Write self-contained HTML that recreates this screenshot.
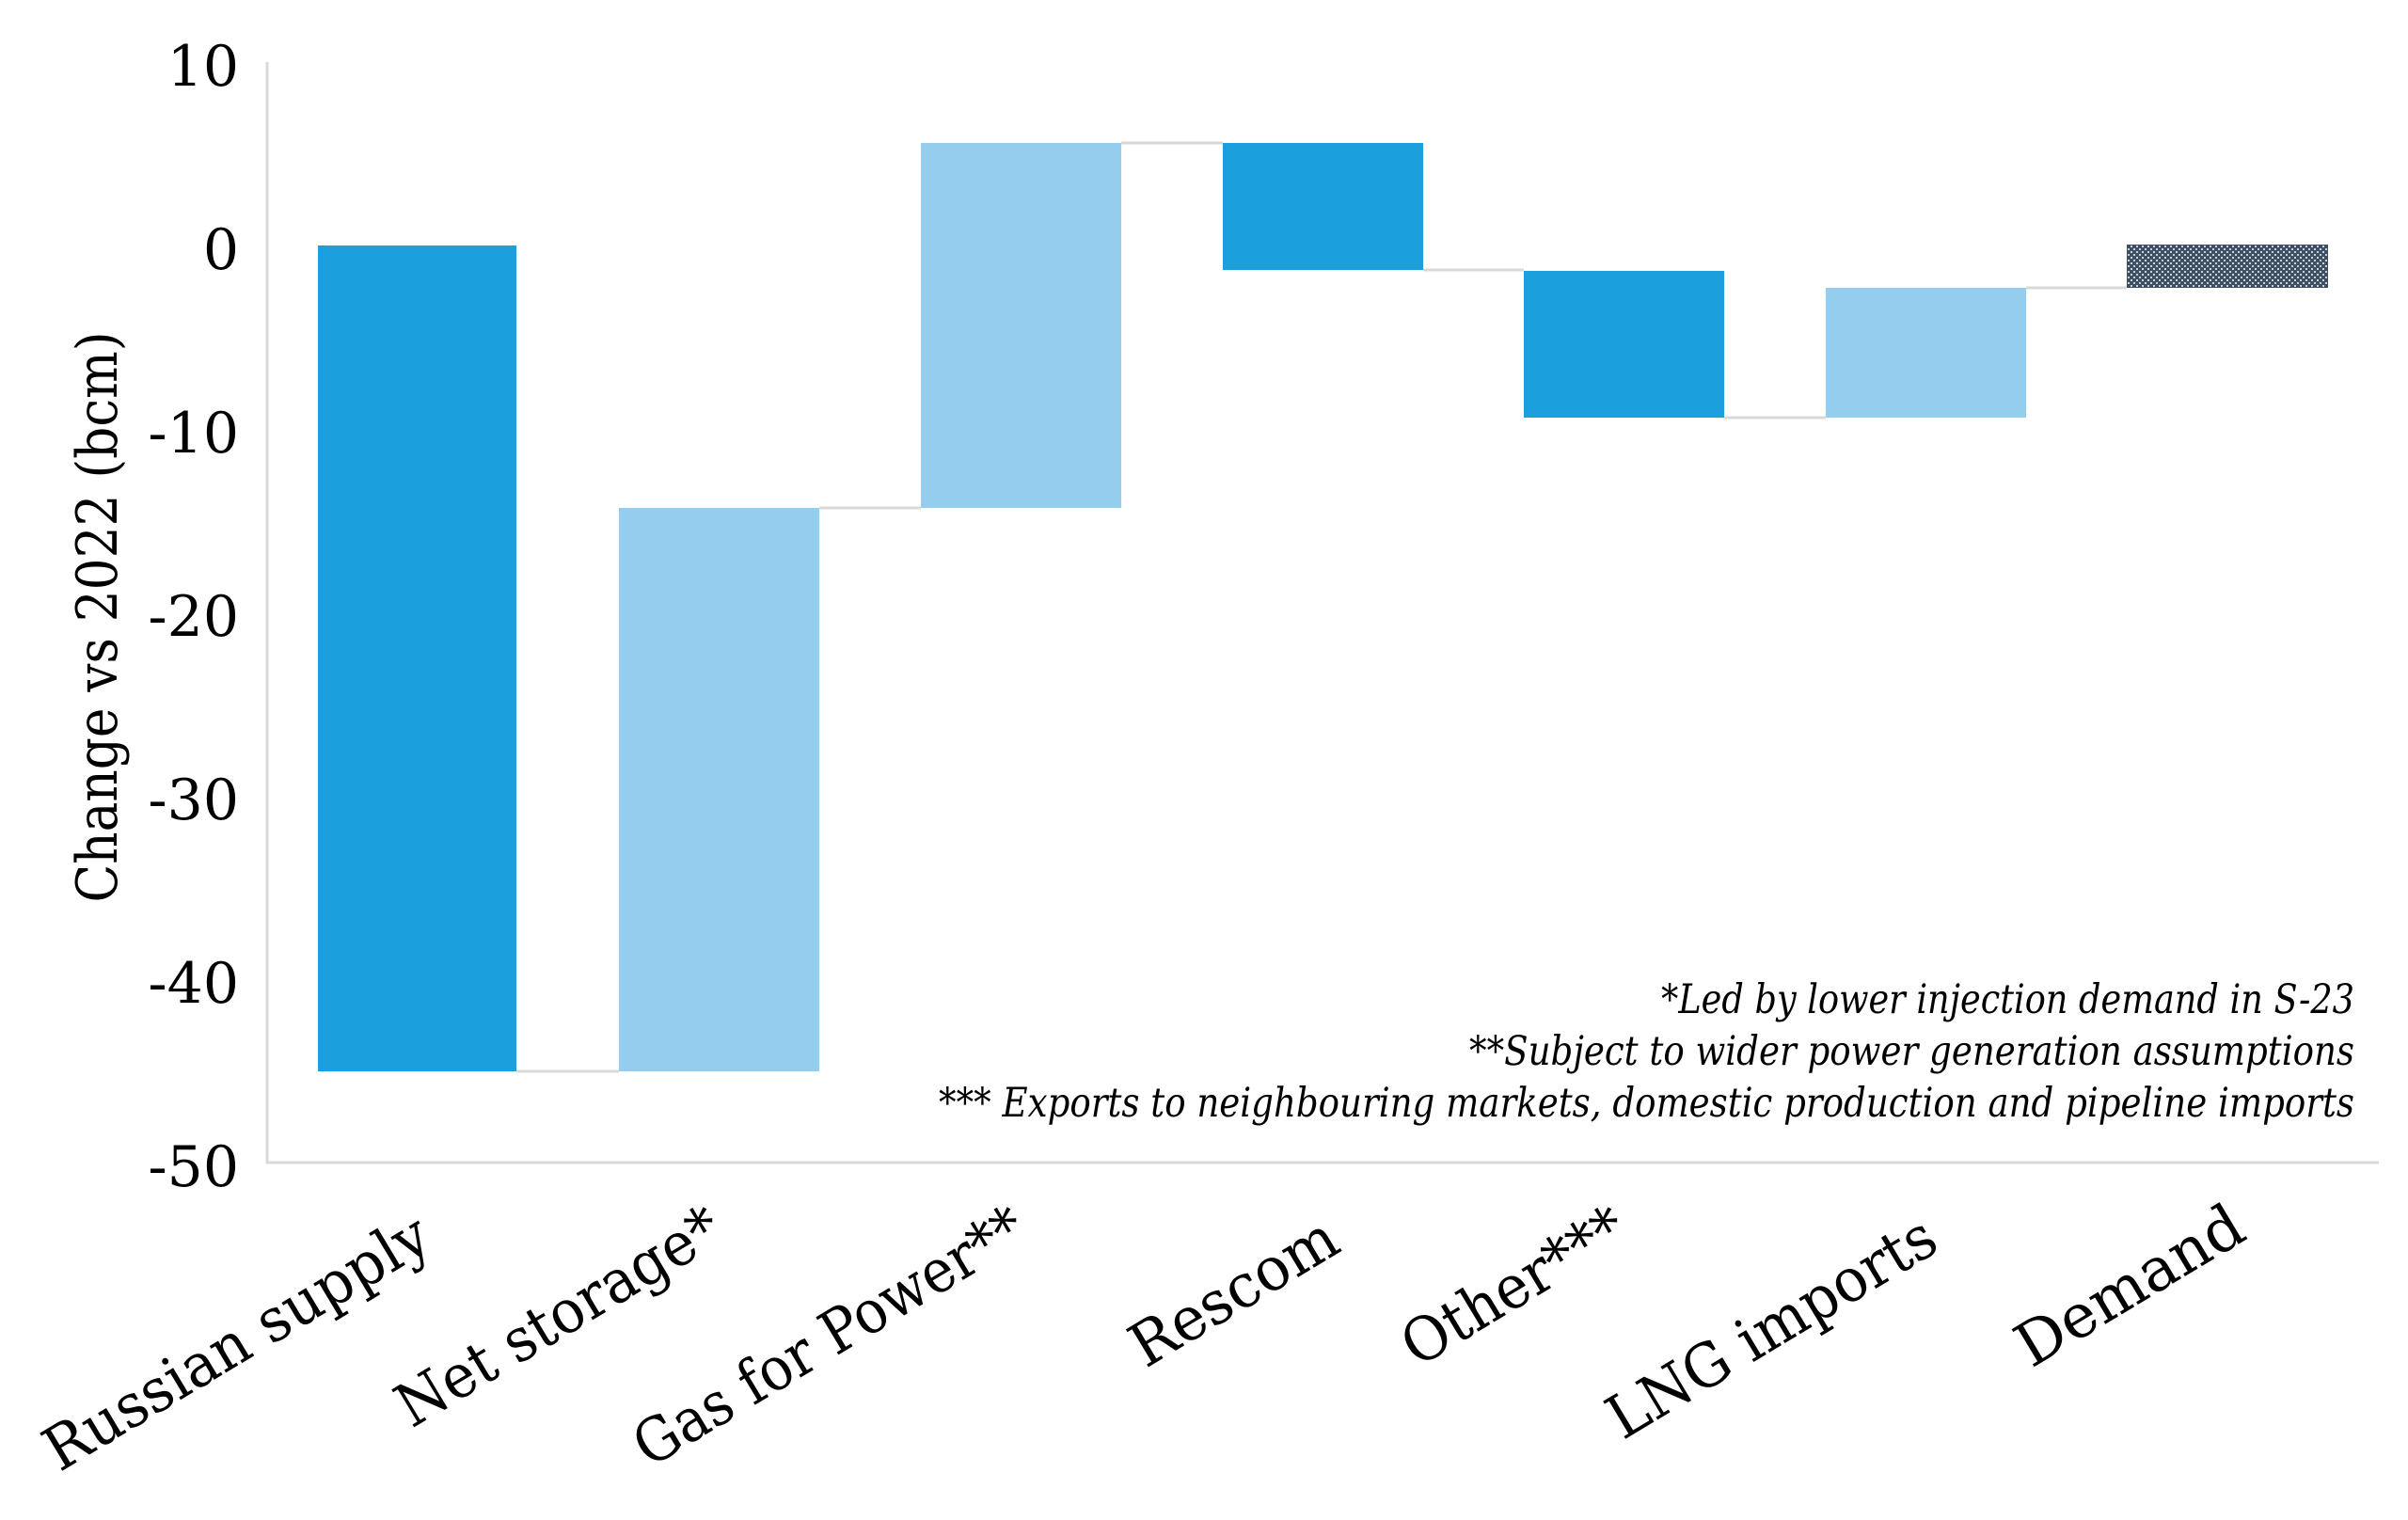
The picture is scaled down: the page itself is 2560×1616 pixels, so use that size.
<!DOCTYPE html>
<html><head><meta charset="utf-8"><style>
html,body{margin:0;padding:0;background:#fff;}
svg{display:block;}
text{font-family:"DejaVu Serif","Liberation Serif",serif;fill:#000;}
</style></head><body>
<svg width="2560" height="1616" viewBox="0 0 2560 1616" xmlns="http://www.w3.org/2000/svg">
<defs>
<pattern id="p" width="6" height="6" patternUnits="userSpaceOnUse">
<rect width="6" height="6" fill="#3e4f63"/>
<rect x="0" y="0" width="2" height="2" fill="#c9d0d8"/>
<rect x="3" y="3" width="2" height="2" fill="#c9d0d8"/>
</pattern>
</defs>
<line x1="284" y1="66" x2="284" y2="1237" stroke="#d9d9d9" stroke-width="3"/>
<line x1="283" y1="1236" x2="2529" y2="1236" stroke="#d9d9d9" stroke-width="3"/>
<g stroke="#d9d9d9" stroke-width="3">
<line x1="549" y1="1139" x2="658" y2="1139"/>
<line x1="871" y1="540" x2="979" y2="540"/>
<line x1="1192" y1="152" x2="1300" y2="152"/>
<line x1="1513" y1="287" x2="1620" y2="287"/>
<line x1="1833" y1="444" x2="1941" y2="444"/>
<line x1="2154" y1="306" x2="2261" y2="306"/>
</g>
<rect x="338" y="261" width="211" height="878" fill="#1b9fdd"/>
<rect x="658" y="540" width="213" height="599" fill="#95cdee"/>
<rect x="979" y="152" width="213" height="388" fill="#95cdee"/>
<rect x="1300" y="152" width="213" height="135" fill="#1b9fdd"/>
<rect x="1620" y="288" width="213" height="156" fill="#1b9fdd"/>
<rect x="1941" y="306" width="213" height="138" fill="#95cdee"/>
<rect x="2261" y="260" width="214" height="46" fill="url(#p)"/>
<g font-size="60" text-anchor="end">
<text x="254" y="91">10</text>
<text x="254" y="286">0</text>
<text x="254" y="481">-10</text>
<text x="254" y="676">-20</text>
<text x="254" y="871">-30</text>
<text x="254" y="1066">-40</text>
<text x="254" y="1261">-50</text>
</g>
<text transform="translate(124,656) rotate(-90)" font-size="60" text-anchor="middle" textLength="607" lengthAdjust="spacingAndGlyphs">Change vs 2022 (bcm)</text>
<g font-size="43" font-style="italic" text-anchor="end">
<text x="2503" y="1077" textLength="737" lengthAdjust="spacingAndGlyphs">*Led by lower injection demand in S-23</text>
<text x="2503" y="1132" textLength="941" lengthAdjust="spacingAndGlyphs">**Subject to wider power generation assumptions</text>
<text x="2503" y="1187" textLength="1505" lengthAdjust="spacingAndGlyphs">*** Exports to neighbouring markets, domestic production and pipeline imports</text>
</g>
<g font-size="64" text-anchor="end">
<text transform="translate(462,1326) rotate(-31)" textLength="465" lengthAdjust="spacingAndGlyphs">Russian supply</text>
<text transform="translate(772,1318) rotate(-31)" textLength="390" lengthAdjust="spacingAndGlyphs">Net storage*</text>
<text transform="translate(1095,1318) rotate(-31)" textLength="472" lengthAdjust="spacingAndGlyphs">Gas for Power**</text>
<text transform="translate(1428,1329) rotate(-31)" textLength="245" lengthAdjust="spacingAndGlyphs">Rescom</text>
<text transform="translate(1734,1318) rotate(-31)" textLength="265" lengthAdjust="spacingAndGlyphs">Other***</text>
<text transform="translate(2064,1328) rotate(-31)" textLength="395" lengthAdjust="spacingAndGlyphs">LNG imports</text>
<text transform="translate(2391,1316) rotate(-31)" textLength="270" lengthAdjust="spacingAndGlyphs">Demand</text>
</g>
</svg>
</body></html>
